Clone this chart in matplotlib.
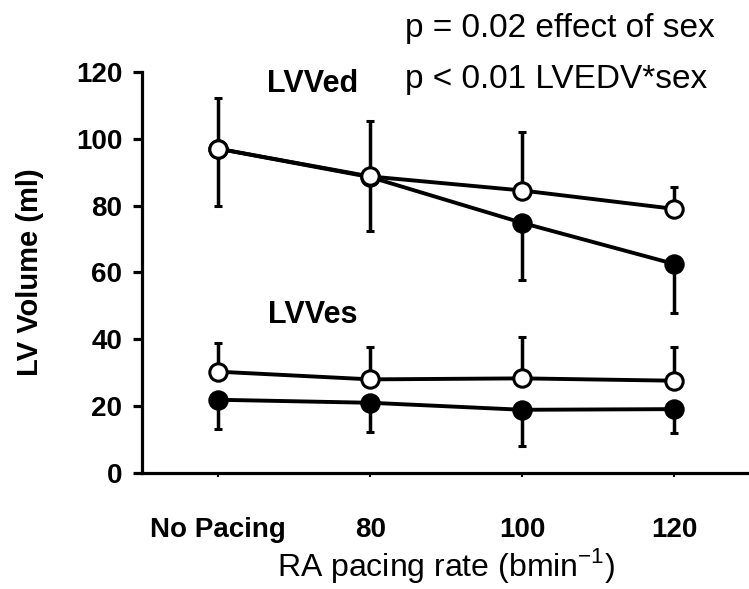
import numpy as np
import matplotlib
matplotlib.use("Agg")
import matplotlib.pyplot as plt

plt.rcParams['font.family'] = ['Liberation Sans', 'DejaVu Sans']

categories = ["No Pacing", "80", "100", "120"]

# LV end-diastolic volume
ed_open = [97, 88.7, 84.5, 79]
ed_open_up = [15.3, 16.5, 17.5, 6.7]
ed_filled = [97, 88.5, 74.8, 62.5]
ed_filled_dn = [17.2, 16, 17, 14.5]

# LV end-systolic volume
es_open = [30.3, 28, 28.3, 27.6]
es_open_up = [8.5, 9.6, 12.5, 10]
es_filled = [21.9, 21, 18.9, 19.1]
es_filled_dn = [8.8, 8.6, 10.7, 7.2]

x = np.arange(len(categories))

fig = plt.figure(figsize=(7.49, 5.89), dpi=100)
ax = fig.add_axes([0.19, 0.197, 0.81, 0.681])

line_kw = dict(color="black", lw=2.8, ms=12.5, mew=2.2, capsize=3,
               elinewidth=2.5, capthick=2.5, clip_on=False)

for y, dn in [(ed_filled, ed_filled_dn), (es_filled, es_filled_dn)]:
    ax.errorbar(x, y, yerr=[dn, np.zeros(len(dn))], fmt='o-',
                mfc="black", mec="black", zorder=3, **line_kw)

for y, up in [(ed_open, ed_open_up), (es_open, es_open_up)]:
    ax.errorbar(x, y, yerr=[np.zeros(len(up)), up], fmt='o-',
                mfc="white", mec="black", zorder=4, **line_kw)

ax.set_xlim(-0.5, 3.49)
ax.set_ylim(0, 120)
ax.set_yticks(np.arange(0, 121, 20))
ax.set_xticks(x)
ax.set_xticklabels(categories, fontweight="bold", fontsize=20)
for lab in ax.get_yticklabels():
    lab.set_fontweight("bold")
    lab.set_fontsize(20)

ax.spines["top"].set_visible(False)
ax.spines["right"].set_visible(False)
ax.spines["left"].set_linewidth(2.3)
ax.spines["bottom"].set_linewidth(2.3)
ax.tick_params(axis="y", length=6.5, width=2.3, pad=8)
ax.tick_params(axis="x", length=3, width=1.5, pad=29)

ax.set_ylabel("LV Volume (ml)", fontweight="bold", fontsize=21)
ax.yaxis.set_label_coords(-0.185, 0.5)
ax.yaxis.label.set_va("center")
ax.set_xlabel(r"RA pacing rate (bmin$^{\mathregular{-1}}$)", fontsize=23,
              labelpad=2)

ax.text(0.62, 114, "LVVed", fontweight="bold", fontsize=22,
        ha="center", va="baseline")
ax.text(0.62, 45, "LVVes", fontweight="bold", fontsize=22,
        ha="center", va="baseline")

fig.text(0.541, 1 - 37 / 589, "p = 0.02 effect of sex", fontsize=24,
         va="baseline")
fig.text(0.541, 1 - 88 / 589, "p < 0.01 LVEDV*sex", fontsize=24,
         va="baseline")

fig.savefig("out.png", dpi=100)
